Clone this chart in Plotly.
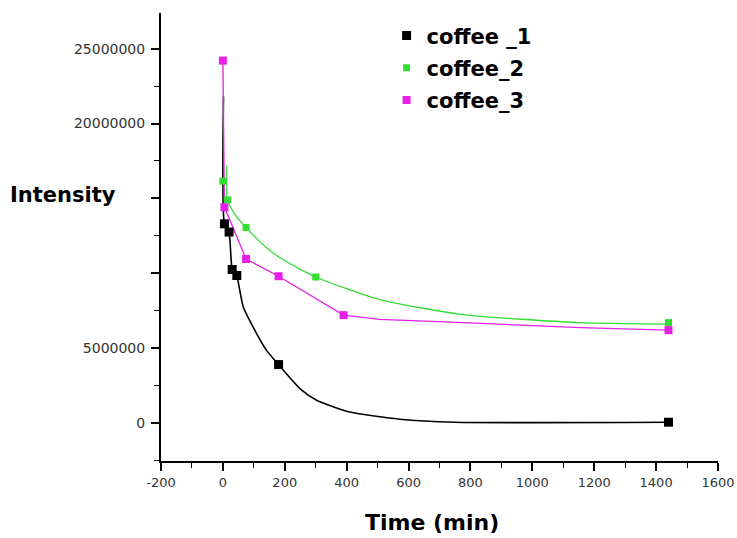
import plotly.graph_objects as go

# ---- data ----
series_names = ["coffee _1", "coffee_2", "coffee_3"]
series_colors = ["#000000", "#33dd33", "#e51fe5"]

time_c1 = [5, 20, 30, 45, 180, 1440]
int_c1 = [13.3e6, 12.75e6, 10.25e6, 9.85e6, 3.9e6, 0.05e6]
time_c2 = [0, 15, 75, 300, 1440]
int_c2 = [16.15e6, 14.9e6, 13.05e6, 9.75e6, 6.7e6]
time_c3 = [0, 5, 75, 180, 390, 1440]
int_c3 = [24.2e6, 14.4e6, 10.95e6, 9.8e6, 7.2e6, 6.2e6]

# drawn (fitted) curves
curve_t1 = [2, 5, 20, 30, 45, 66, 109, 141, 180, 249, 303, 410, 572, 750, 1440]
curve_i1 = [21.8e6, 13.3e6, 12.7e6, 10.3e6, 9.8e6, 7.74e6, 5.97e6, 4.85e6, 3.9e6,
            2.3e6, 1.52e6, 0.73e6, 0.25e6, 0.05e6, 0.05e6]
curve_t2 = [12, 15, 40, 75, 141, 195, 300, 507, 776, 1154, 1440]
curve_i2 = [17.2e6, 14.9e6, 13.9e6, 13.05e6, 11.7e6, 10.9e6, 9.75e6, 8.24e6,
            7.24e6, 6.7e6, 6.6e6]
curve_t3 = [0, 5, 75, 180, 390, 507, 776, 1154, 1440]
curve_i3 = [24.2e6, 14.4e6, 10.95e6, 9.8e6, 7.2e6, 6.92e6, 6.7e6, 6.37e6, 6.2e6]

y_tickvals = [0, 5e6, 10e6, 15e6, 20e6, 25e6]
y_ticktext = ["0", "5000000", "", "", "20000000", "25000000"]
x_tickvals = [-200, 0, 200, 400, 600, 800, 1000, 1200, 1400, 1600]
x_ticktext = ["-200", "0", "200", "400", "600", "800", "1000", "1200", "1400", "1600"]

marker_sizes = [9, 7, 8]
line_widths = [1.6, 1.3, 1.3]
line_shapes = ["spline", "spline", "linear"]

FONT = "DejaVu Sans"

fig = go.Figure()
curves = [(curve_t1, curve_i1), (curve_t2, curve_i2), (curve_t3, curve_i3)]
points = [(time_c1, int_c1), (time_c2, int_c2), (time_c3, int_c3)]

for k in range(3):
    ct, ci = curves[k]
    fig.add_trace(go.Scatter(x=ct, y=ci, mode="lines",
                             line=dict(color=series_colors[k], width=line_widths[k],
                                       shape=line_shapes[k], smoothing=0.6),
                             showlegend=False, hoverinfo="skip"))
for k in range(3):
    pt, pi = points[k]
    fig.add_trace(go.Scatter(x=pt, y=pi, mode="markers", name=series_names[k],
                             legendgroup=series_names[k],
                             marker=dict(symbol="square", size=marker_sizes[k],
                                         color=series_colors[k], line=dict(width=0))))

fig.update_layout(
    width=737, height=538,
    margin=dict(l=161, r=19, t=13, b=77, autoexpand=False),
    paper_bgcolor="white", plot_bgcolor="white",
    font=dict(family=FONT, color="#000"),
    showlegend=True,
    legend=dict(x=0.405, y=0.995, xanchor="left", yanchor="top",
                font=dict(family=FONT, size=21, color="#000", weight="bold"),
                bgcolor="rgba(0,0,0,0)", tracegroupgap=2, itemwidth=30),
    xaxis=dict(range=[-200, 1600], tickmode="array", tickvals=x_tickvals,
               ticktext=x_ticktext, automargin=False,
               showgrid=False, zeroline=False, showline=True, linecolor="#000",
               linewidth=2, ticks="outside", ticklen=8, tickwidth=1.5, tickcolor="#000",
               tickfont=dict(family=FONT, size=13, color="#333"),
               minor=dict(tickmode="linear", tick0=-100, dtick=200, ticks="outside",
                          ticklen=5, tickwidth=1.3, tickcolor="#000")),
    yaxis=dict(range=[-2.54e6, 27.38e6], tickmode="array", tickvals=y_tickvals,
               ticktext=y_ticktext, automargin=False, ticklabelstandoff=3,
               showgrid=False, zeroline=False, showline=True, linecolor="#000",
               linewidth=2, ticks="outside", ticklen=8, tickwidth=1.5, tickcolor="#000",
               tickfont=dict(family=FONT, size=14, color="#333"),
               minor=dict(tickmode="linear", tick0=2.5e6, dtick=5e6, ticks="outside",
                          ticklen=5, tickwidth=1.3, tickcolor="#000")),
    annotations=[
        dict(text="<b>Intensity</b>", xref="paper", yref="paper",
             x=-0.274, y=0.593, xanchor="left", yanchor="middle", showarrow=False,
             font=dict(family=FONT, size=21, color="#000")),
        dict(text="<b>Time (min)</b>", xref="paper", yref="paper",
             x=0.4865, y=-0.138, xanchor="center", yanchor="middle", showarrow=False,
             font=dict(family=FONT, size=22, color="#000")),
    ],
)

# remove the default page margin so the figure fills the window exactly
fig.write_html("out.html", config={"displayModeBar": False},
               post_script="document.body.style.margin='0';document.body.style.overflow='hidden';")
